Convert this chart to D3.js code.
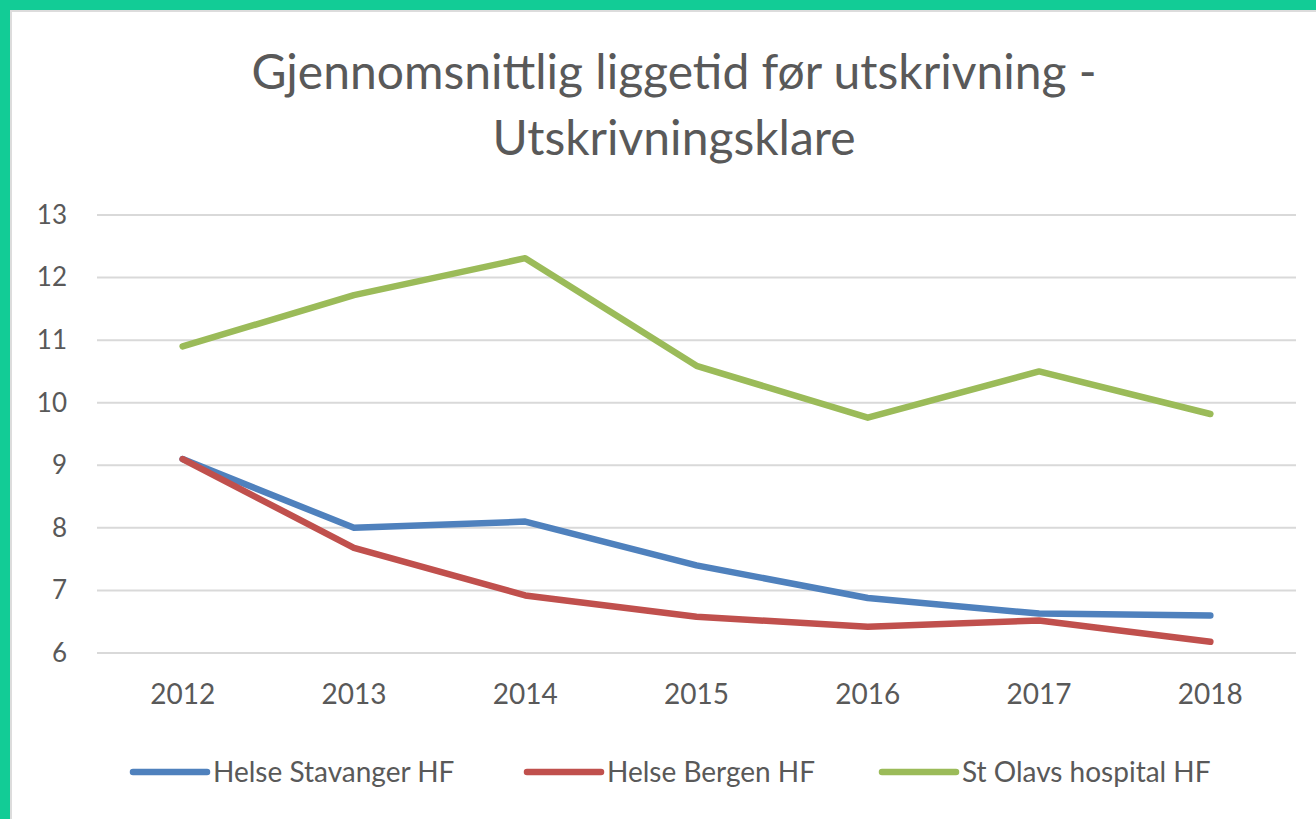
<!DOCTYPE html>
<html>
<head>
<meta charset="utf-8">
<script src="https://cdn.jsdelivr.net/npm/d3@7"></script>
<style>
  html, body { margin: 0; padding: 0; background: #fff; }
  svg { display: block; }
  text { font-family: Lato, "Open Sans", sans-serif; fill: #595959; }
</style>
</head>
<body>
<svg id="chart" width="1316" height="819"></svg>
<script>
const years = ["2012", "2013", "2014", "2015", "2016", "2017", "2018"];
const stavanger = [9.1, 8.0, 8.1, 7.4, 6.88, 6.63, 6.6];
const bergen = [9.1, 7.68, 6.92, 6.58, 6.42, 6.52, 6.18];
const stOlavs = [10.9, 11.72, 12.31, 10.59, 9.76, 10.5, 9.82];
const seriesNames = ["Helse Stavanger HF", "Helse Bergen HF", "St Olavs hospital HF"];
const seriesColors = ["#4f81bd", "#c0504d", "#9bbb59"];
const yTicks = [6, 7, 8, 9, 10, 11, 12, 13];
const titleLines = ["Gjennomsnittlig liggetid før utskrivning -", "Utskrivningsklare"];

const svg = d3.select("#chart");
const W = 1316, H = 819;

svg.append("rect").attr("width", W).attr("height", H).attr("fill", "#fff");

// frame border (green) with subtle shadow
svg.append("rect").attr("x", 10).attr("y", 10).attr("width", W - 10).attr("height", 2).attr("fill", "#dcdcdc");
svg.append("rect").attr("x", 10).attr("y", 10).attr("width", 2).attr("height", H - 10).attr("fill", "#dcdcdc");
svg.append("rect").attr("x", 0).attr("y", 0).attr("width", W).attr("height", 10).attr("fill", "#12cc96");
svg.append("rect").attr("x", 0).attr("y", 0).attr("width", 10).attr("height", H).attr("fill", "#12cc96");

// title
svg.append("g").selectAll("text").data(titleLines).join("text")
  .attr("x", 674)
  .attr("y", (d, i) => 89 + i * 66)
  .attr("text-anchor", "middle")
  .attr("font-size", 48)
  .text(d => d);

const x = d3.scaleBand().domain(years).range([97, 1296]);
const y = d3.scaleLinear().domain([6, 13]).range([653, 215]);

// gridlines
svg.append("g").selectAll("line").data(yTicks).join("line")
  .attr("x1", 97).attr("x2", 1296)
  .attr("y1", d => y(d)).attr("y2", d => y(d))
  .attr("stroke", "#d9d9d9").attr("stroke-width", 2);

// y axis
const yAxis = svg.append("g").attr("transform", "translate(97,0)")
  .call(d3.axisLeft(y).tickValues(yTicks).tickSize(0).tickPadding(30).tickFormat(d3.format("d")));
yAxis.select(".domain").remove();
yAxis.selectAll("text").attr("font-size", 26).attr("font-family", "Lato").attr("fill", "#595959");

// x axis
const xAxis = svg.append("g").attr("transform", "translate(0,653)")
  .call(d3.axisBottom(x).tickSize(0).tickPadding(31));
xAxis.select(".domain").remove();
xAxis.selectAll("text").attr("font-size", 28).attr("font-family", "Lato").attr("fill", "#595959");

// lines
const allSeries = [stavanger, bergen, stOlavs];
const line = d3.line()
  .x((d, i) => x(years[i]) + x.bandwidth() / 2)
  .y(d => y(d));

svg.append("g").selectAll("path").data(allSeries).join("path")
  .attr("d", d => line(d))
  .attr("fill", "none")
  .attr("stroke", (d, i) => seriesColors[i])
  .attr("stroke-width", 6.5)
  .attr("stroke-linejoin", "round")
  .attr("stroke-linecap", "round");

// legend
const legendX = [133, 527, 882];
const leg = svg.append("g").selectAll("g").data(seriesNames).join("g")
  .attr("transform", (d, i) => `translate(${legendX[i]},772)`);
leg.append("line")
  .attr("x1", 0).attr("x2", 74).attr("y1", 0).attr("y2", 0)
  .attr("stroke", (d, i) => seriesColors[i])
  .attr("stroke-width", 6.5)
  .attr("stroke-linecap", "round");
leg.append("text")
  .attr("x", 80).attr("y", 10)
  .attr("font-size", 28)
  .text(d => d);
</script>
</body>
</html>
